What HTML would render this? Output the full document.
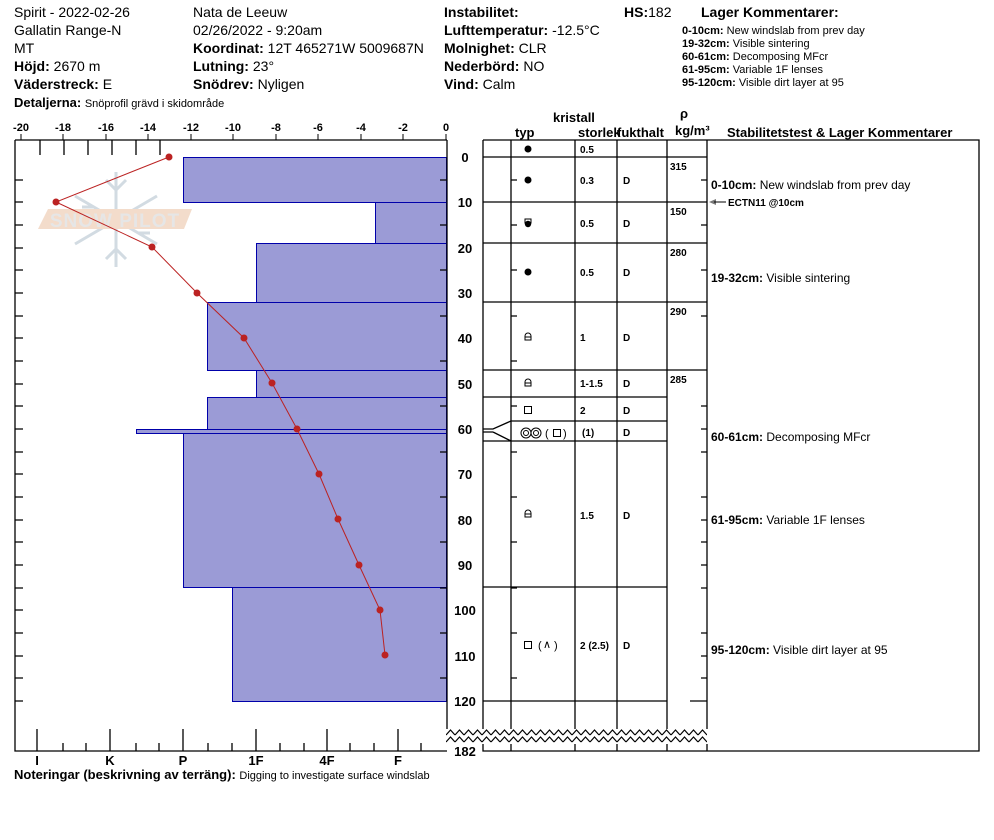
<!DOCTYPE html>
<html><head><meta charset="utf-8"><style>
body{margin:0;background:#fff;width:994px;height:840px;overflow:hidden}
svg{display:block}
text{font-family:"Liberation Sans",Arial,sans-serif;fill:#000}
.b{font-weight:bold}
</style></head><body>
<svg width="994" height="840" viewBox="0 0 994 840" xmlns="http://www.w3.org/2000/svg">
<defs>
<pattern id="zz" x="446" y="0" width="9" height="840" patternUnits="userSpaceOnUse">
<path d="M0 735 l4.5 -5 4.5 5 M0 742 l4.5 -5 4.5 5" fill="none" stroke="#000" stroke-width="1.2"/>
</pattern>
</defs>
<!-- header -->
<g font-size="14">
<text x="14" y="17">Spirit - 2022-02-26</text>
<text x="14" y="35">Gallatin Range-N</text>
<text x="14" y="53">MT</text>
<text x="14" y="71"><tspan class="b">Höjd:</tspan> 2670 m</text>
<text x="14" y="89"><tspan class="b">Väderstreck:</tspan> E</text>
<text x="193" y="17">Nata de Leeuw</text>
<text x="193" y="35">02/26/2022 - 9:20am</text>
<text x="193" y="53"><tspan class="b">Koordinat:</tspan> 12T 465271W 5009687N</text>
<text x="193" y="71"><tspan class="b">Lutning:</tspan> 23°</text>
<text x="193" y="89"><tspan class="b">Snödrev:</tspan> Nyligen</text>
<text x="444" y="17" class="b">Instabilitet:</text>
<text x="444" y="35"><tspan class="b">Lufttemperatur:</tspan> -12.5°C</text>
<text x="444" y="53"><tspan class="b">Molnighet:</tspan> CLR</text>
<text x="444" y="71"><tspan class="b">Nederbörd:</tspan> NO</text>
<text x="444" y="89"><tspan class="b">Vind:</tspan>  Calm</text>
<text x="624" y="17"><tspan class="b">HS:</tspan>182</text>
<text x="701" y="17" class="b">Lager Kommentarer:</text>
</g>
<text x="14" y="107" font-size="13"><tspan class="b">Detaljerna:</tspan> <tspan font-size="11">Snöprofil grävd i skidområde</tspan></text>
<g font-size="11">
<text x="682" y="34"><tspan class="b">0-10cm:</tspan>  New windslab from prev day</text>
<text x="682" y="47"><tspan class="b">19-32cm:</tspan>  Visible sintering</text>
<text x="682" y="60"><tspan class="b">60-61cm:</tspan>  Decomposing MFcr</text>
<text x="682" y="73"><tspan class="b">61-95cm:</tspan>  Variable 1F lenses</text>
<text x="682" y="86"><tspan class="b">95-120cm:</tspan>  Visible dirt layer at 95</text>
</g>
<!-- temp axis -->
<g font-size="11" text-anchor="middle" font-weight="bold">
<text x="21" y="131">-20</text><text x="63" y="131">-18</text><text x="106" y="131">-16</text><text x="148" y="131">-14</text><text x="191" y="131">-12</text><text x="233" y="131">-10</text><text x="276" y="131">-8</text><text x="318" y="131">-6</text><text x="361" y="131">-4</text><text x="403" y="131">-2</text><text x="446" y="131">0</text>
</g>
<g stroke="#000" stroke-width="1">
<path d="M21 134v6M63 134v6M106 134v6M148 134v6M191 134v6M233 134v6M276 134v6M318 134v6M361 134v6M403 134v6M446 134v6"/>
</g>
<!-- snowpilot logo -->
<g opacity="0.3">
<g stroke="#6d8aa0" stroke-width="3" fill="none">
<path d="M116 172v95M75 196l82 48M75 244l82-48"/>
<path d="M106 180l10 10 10-10M106 259l10-10 10 10M82 207l12 0M138 233l12 0"/>
</g>
</g>
<polygon points="48,209 192,209 184,229 38,229" fill="#f3dccb"/>
<text x="115" y="227" font-size="19" text-anchor="middle" style="fill:#e6e6e6" font-weight="bold" letter-spacing="1">SNOW PILOT</text>
<!-- hardness bars -->
<g fill="#9b9bd6" stroke="#0000aa" stroke-width="1">
<rect x="183.5" y="157.5" width="263" height="45"/>
<rect x="375.5" y="202.5" width="71" height="41"/>
<rect x="256.5" y="243.5" width="190" height="59"/>
<rect x="207.5" y="302.5" width="239" height="68"/>
<rect x="256.5" y="370.5" width="190" height="27"/>
<rect x="207.5" y="397.5" width="239" height="32"/>
<rect x="136.5" y="429.5" width="310" height="4"/>
<rect x="183.5" y="433.5" width="263" height="154"/>
<rect x="232.5" y="587.5" width="214" height="114"/>
</g>
<!-- left frame -->
<g stroke="#000" stroke-width="1.3" fill="none">
<path d="M15 140V751H447M15 140H447M447 140V730"/>
<path d="M15 180h8M15 202h8M15 225h8M15 248h8M15 270h8M15 293h8M15 316h8M15 338h8M15 361h8M15 384h8M15 406h8M15 429h8M15 452h8M15 474h8M15 497h8M15 520h8M15 542h8M15 565h8M15 588h8M15 610h8M15 633h8M15 656h8M15 678h8M15 701h8"/>
<path d="M440 180h7M440 225h7M440 270h7M440 316h7M440 361h7M440 406h7M440 452h7M440 497h7M440 542h7M440 588h7M440 633h7M440 678h7"/>
<path d="M40 140v15M88 140v15M112 140v15M136 140v15M160 140v15M64 140v15"/>
<path d="M37 751v-22M110 751v-22M183 751v-22M256 751v-22M327 751v-22M398 751v-22M63 751v-8M86 751v-8M136 751v-8M159 751v-8M208 751v-8M232 751v-8M280 751v-8M304 751v-8M350 751v-8M374 751v-8M421 751v-8"/>
</g>
<g font-size="13" font-weight="bold" text-anchor="middle">
<text x="37" y="765">I</text><text x="110" y="765">K</text><text x="183" y="765">P</text><text x="256" y="765">1F</text><text x="327" y="765">4F</text><text x="398" y="765">F</text>
</g>
<text x="14" y="779" font-size="13"><tspan class="b">Noteringar (beskrivning av terräng):</tspan> <tspan font-size="11">Digging to investigate surface windslab</tspan></text>
<!-- temp profile -->
<polyline fill="none" stroke="#b22" stroke-width="1" points="169,157 56,202 152,247 197,293 244,338 272,383 297,429 319,474 338,519 359,565 380,610 385,655"/>
<g fill="#b22">
<circle cx="169" cy="157" r="3.5"/><circle cx="56" cy="202" r="3.5"/><circle cx="152" cy="247" r="3.5"/><circle cx="197" cy="293" r="3.5"/><circle cx="244" cy="338" r="3.5"/><circle cx="272" cy="383" r="3.5"/><circle cx="297" cy="429" r="3.5"/><circle cx="319" cy="474" r="3.5"/><circle cx="338" cy="519" r="3.5"/><circle cx="359" cy="565" r="3.5"/><circle cx="380" cy="610" r="3.5"/><circle cx="385" cy="655" r="3.5"/>
</g>
<!-- depth labels -->
<g font-size="13" font-weight="bold" text-anchor="middle">
<text x="465" y="162">0</text><text x="465" y="207">10</text><text x="465" y="253">20</text><text x="465" y="298">30</text><text x="465" y="343">40</text><text x="465" y="389">50</text><text x="465" y="434">60</text><text x="465" y="479">70</text><text x="465" y="525">80</text><text x="465" y="570">90</text><text x="465" y="615">100</text><text x="465" y="661">110</text><text x="465" y="706">120</text><text x="465" y="756">182</text>
</g>
<!-- table headers -->
<g font-size="13" font-weight="bold">
<text x="553" y="122">kristall</text>
<text x="515" y="137">typ</text>
<text x="578" y="137">storlek</text>
<text x="617" y="137">fukthalt</text>
<text x="680" y="118">ρ</text>
<text x="675" y="135">kg/m³</text>
<text x="727" y="137">Stabilitetstest &amp; Lager Kommentarer</text>
</g>
<!-- table -->
<g stroke="#000" stroke-width="1.3" fill="none">
<path d="M483 140H979V751H483V140"/>
<path d="M511 140V751M575 140V751M617 140V751M667 140V751M707 140V751"/>
<path d="M483 157H707M483 202H707M483 243H707M483 302H707M483 370H707M511 397H667M511 421H667M511 441H667M483 587H667M483 701H667"/>
<path d="M483 397H511M483 441H511"/>
<path d="M483 429H493L511 421M493 432L511 441M483 432H493"/>
<path d="M511 180h6M511 225h6M511 270h6M511 316h6M511 361h6M511 406h6M511 452h6M511 497h6M511 542h6M511 588h6M511 633h6M511 678h6"/>
<path d="M701 180h6M701 225h6M701 270h6M701 316h6M701 406h6M701 429h6M701 452h6M701 497h6M701 520h6M701 542h6M701 565h6M701 588h6M701 633h6M701 656h6M701 678h6M690 701h17"/>
</g>
<!-- zigzag -->
<rect x="446" y="729" width="262" height="15" fill="#fff"/>
<rect x="446" y="728" width="261" height="16" fill="url(#zz)"/>
<!-- grain symbols -->
<g fill="#000"><circle cx="528" cy="149" r="3.5"/><circle cx="528" cy="180" r="3.5"/><circle cx="528" cy="272" r="3.5"/><circle cx="528" cy="224" r="3.2"/></g>
<rect x="525" y="219" width="6" height="4" fill="none" stroke="#000"/>
<g fill="none" stroke="#000" stroke-width="1">
<path d="M525 340h6v-4a3 3 0 0 0-6 0zM525 337h6"/>
<path d="M525 386h6v-4a3 3 0 0 0-6 0zM525 383h6"/>
<path d="M525 517h6v-4a3 3 0 0 0-6 0zM525 514h6"/>
<rect x="524.5" y="406.5" width="7" height="7"/>
<rect x="524.5" y="641.5" width="7" height="7"/>
<circle cx="526" cy="433" r="5"/><circle cx="526" cy="433" r="2.5"/>
<circle cx="536" cy="433" r="5"/><circle cx="536" cy="433" r="2.5"/>
<rect x="553.5" y="429.5" width="7" height="7"/>
</g>
<text x="545" y="437" font-size="11">(</text><text x="563" y="437" font-size="11">)</text>
<text x="538" y="649" font-size="11">(</text><text x="543" y="648" font-size="11">∧</text><text x="554" y="649" font-size="11">)</text>
<!-- table text -->
<g font-size="10" font-weight="bold">
<text x="580" y="153">0.5</text>
<text x="580" y="184">0.3</text><text x="623" y="184">D</text>
<text x="580" y="227">0.5</text><text x="623" y="227">D</text>
<text x="580" y="276">0.5</text><text x="623" y="276">D</text>
<text x="580" y="341">1</text><text x="623" y="341">D</text>
<text x="580" y="387">1-1.5</text><text x="623" y="387">D</text>
<text x="580" y="414">2</text><text x="623" y="414">D</text>
<text x="582" y="436">(1)</text><text x="623" y="436">D</text>
<text x="580" y="519">1.5</text><text x="623" y="519">D</text>
<text x="580" y="649">2 (2.5)</text><text x="623" y="649">D</text>
<text x="670" y="170">315</text><text x="670" y="215">150</text><text x="670" y="256">280</text><text x="670" y="315">290</text><text x="670" y="383">285</text>
</g>
<g font-size="12">
<text x="711" y="189"><tspan class="b">0-10cm:</tspan>  New windslab from prev day</text>
<text x="711" y="282"><tspan class="b">19-32cm:</tspan>  Visible sintering</text>
<text x="711" y="441"><tspan class="b">60-61cm:</tspan>  Decomposing MFcr</text>
<text x="711" y="524"><tspan class="b">61-95cm:</tspan>  Variable 1F lenses</text>
<text x="711" y="654"><tspan class="b">95-120cm:</tspan>  Visible dirt layer at 95</text>
</g>
<path d="M709 202l7-3v6z" fill="#777"/><path d="M714 202h12" stroke="#000"/>
<text x="728" y="206" font-size="10" font-weight="bold">ECTN11 @10cm</text>
</svg>
</body></html>
